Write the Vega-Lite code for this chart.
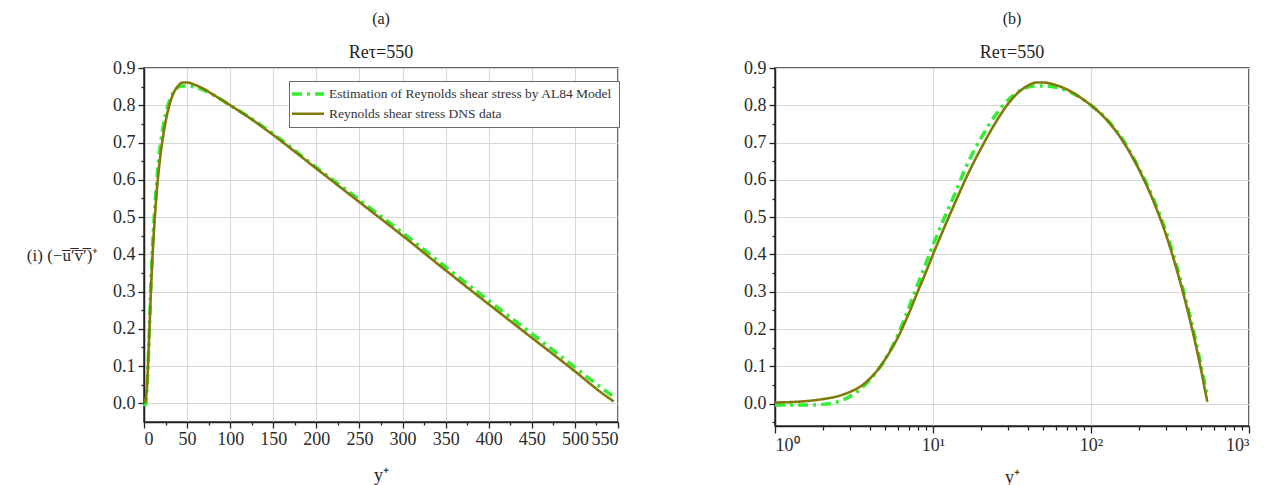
{
  "$schema": "https://vega.github.io/schema/vega-lite/v6.json",
  "padding": {"left": 17, "top": 10, "right": 5, "bottom": 0},
  "background": "white",
  "spacing": 120,
  "config": {
    "view": {"stroke": "#333", "strokeWidth": 1.5},
    "axis": {
      "domainColor": "#222", "domainWidth": 1.5,
      "tickColor": "#222", "tickWidth": 1.3,
      "gridColor": "#d6d6d6", "gridWidth": 1,
      "labelFont": "Liberation Serif", "labelFontSize": 18, "labelColor": "#2a2a2a",
      "titleFont": "Liberation Serif", "titleFontSize": 18, "titleFontWeight": "normal", "titleColor": "#2a2a2a"
    },
    "title": {"font": "Liberation Serif", "fontSize": 16, "fontWeight": "normal", "color": "#222",
      "subtitleFont": "Liberation Serif", "subtitleFontSize": 18, "subtitleColor": "#222", "subtitlePadding": 17, "offset": -3}
  },
  "datasets": {
    "d": [
      {"yp": 0, "v": 0, "s": "AL84"},
      {"yp": 1, "v": -0.004, "s": "AL84"},
      {"yp": 1.5, "v": -0.004, "s": "AL84"},
      {"yp": 2, "v": -0.002, "s": "AL84"},
      {"yp": 2.5, "v": 0.005, "s": "AL84"},
      {"yp": 3, "v": 0.02, "s": "AL84"},
      {"yp": 3.5, "v": 0.04, "s": "AL84"},
      {"yp": 4, "v": 0.065, "s": "AL84"},
      {"yp": 5, "v": 0.12, "s": "AL84"},
      {"yp": 6, "v": 0.185, "s": "AL84"},
      {"yp": 7, "v": 0.255, "s": "AL84"},
      {"yp": 8, "v": 0.32, "s": "AL84"},
      {"yp": 9, "v": 0.375, "s": "AL84"},
      {"yp": 10, "v": 0.425, "s": "AL84"},
      {"yp": 12, "v": 0.505, "s": "AL84"},
      {"yp": 14, "v": 0.57, "s": "AL84"},
      {"yp": 16, "v": 0.63, "s": "AL84"},
      {"yp": 18, "v": 0.675, "s": "AL84"},
      {"yp": 20, "v": 0.71, "s": "AL84"},
      {"yp": 25, "v": 0.775, "s": "AL84"},
      {"yp": 30, "v": 0.815, "s": "AL84"},
      {"yp": 35, "v": 0.838, "s": "AL84"},
      {"yp": 40, "v": 0.849, "s": "AL84"},
      {"yp": 45, "v": 0.852, "s": "AL84"},
      {"yp": 50, "v": 0.852, "s": "AL84"},
      {"yp": 60, "v": 0.848, "s": "AL84"},
      {"yp": 70, "v": 0.84, "s": "AL84"},
      {"yp": 80, "v": 0.828, "s": "AL84"},
      {"yp": 100, "v": 0.8, "s": "AL84"},
      {"yp": 120, "v": 0.771, "s": "AL84"},
      {"yp": 150, "v": 0.723, "s": "AL84"},
      {"yp": 200, "v": 0.633, "s": "AL84"},
      {"yp": 250, "v": 0.546, "s": "AL84"},
      {"yp": 300, "v": 0.458, "s": "AL84"},
      {"yp": 350, "v": 0.366, "s": "AL84"},
      {"yp": 400, "v": 0.276, "s": "AL84"},
      {"yp": 450, "v": 0.187, "s": "AL84"},
      {"yp": 500, "v": 0.097, "s": "AL84"},
      {"yp": 530, "v": 0.043, "s": "AL84"},
      {"yp": 545, "v": 0.018, "s": "AL84"},
      {"yp": 0, "v": 0, "s": "DNS"},
      {"yp": 1, "v": 0.003, "s": "DNS"},
      {"yp": 1.5, "v": 0.006, "s": "DNS"},
      {"yp": 2, "v": 0.012, "s": "DNS"},
      {"yp": 2.5, "v": 0.02, "s": "DNS"},
      {"yp": 3, "v": 0.032, "s": "DNS"},
      {"yp": 3.5, "v": 0.047, "s": "DNS"},
      {"yp": 4, "v": 0.068, "s": "DNS"},
      {"yp": 4.5, "v": 0.092, "s": "DNS"},
      {"yp": 5, "v": 0.12, "s": "DNS"},
      {"yp": 6, "v": 0.178, "s": "DNS"},
      {"yp": 7, "v": 0.24, "s": "DNS"},
      {"yp": 8, "v": 0.3, "s": "DNS"},
      {"yp": 9, "v": 0.352, "s": "DNS"},
      {"yp": 10, "v": 0.4, "s": "DNS"},
      {"yp": 12, "v": 0.48, "s": "DNS"},
      {"yp": 14, "v": 0.545, "s": "DNS"},
      {"yp": 16, "v": 0.6, "s": "DNS"},
      {"yp": 18, "v": 0.645, "s": "DNS"},
      {"yp": 20, "v": 0.682, "s": "DNS"},
      {"yp": 25, "v": 0.755, "s": "DNS"},
      {"yp": 30, "v": 0.805, "s": "DNS"},
      {"yp": 35, "v": 0.836, "s": "DNS"},
      {"yp": 40, "v": 0.853, "s": "DNS"},
      {"yp": 45, "v": 0.861, "s": "DNS"},
      {"yp": 50, "v": 0.861, "s": "DNS"},
      {"yp": 60, "v": 0.854, "s": "DNS"},
      {"yp": 70, "v": 0.843, "s": "DNS"},
      {"yp": 80, "v": 0.829, "s": "DNS"},
      {"yp": 100, "v": 0.8, "s": "DNS"},
      {"yp": 120, "v": 0.77, "s": "DNS"},
      {"yp": 150, "v": 0.72, "s": "DNS"},
      {"yp": 200, "v": 0.63, "s": "DNS"},
      {"yp": 250, "v": 0.54, "s": "DNS"},
      {"yp": 300, "v": 0.45, "s": "DNS"},
      {"yp": 350, "v": 0.357, "s": "DNS"},
      {"yp": 400, "v": 0.266, "s": "DNS"},
      {"yp": 450, "v": 0.176, "s": "DNS"},
      {"yp": 500, "v": 0.086, "s": "DNS"},
      {"yp": 530, "v": 0.03, "s": "DNS"},
      {"yp": 545, "v": 0.005, "s": "DNS"}
    ]
  },
  "hconcat": [
    {
      "width": 474,
      "height": 354,
      "title": {"text": "(a)", "subtitle": "Reτ=550"},
      "data": {"name": "d"},
      "mark": {"type": "line", "interpolate": "monotone"},
      "encoding": {
        "x": {
          "field": "yp", "type": "quantitative",
          "scale": {"domain": [0, 550], "nice": false},
          "axis": {
            "title": "y⁺", "titlePadding": 18, "grid": true,
            "values": [0,25,50,75,100,125,150,175,200,225,250,275,300,325,350,375,400,425,450,475,500,525,550],
            "labelExpr": "datum.value % 50 === 0 ? datum.label : ''",
            "tickSize": {"condition": {"test": "datum.value % 50 === 0", "value": 6}, "value": 3},
            "gridOpacity": {"condition": {"test": "datum.value % 50 === 0", "value": 1}, "value": 0},
            "labelPadding": 2
          }
        },
        "y": {
          "field": "v", "type": "quantitative",
          "scale": {"domain": [-0.05, 0.9], "nice": false, "zero": false},
          "axis": {
            "title": "(i)   (−u̅′̅v̅′̅)⁺",
            "titleAngle": 0, "titleAlign": "right", "titleBaseline": "middle",
            "titleX": -46, "titleY": 187, "titleFontSize": 17,
            "grid": true,
            "values": [0,0.05,0.1,0.15,0.2,0.25,0.3,0.35,0.4,0.45,0.5,0.55,0.6,0.65,0.7,0.75,0.8,0.85,0.9],
            "format": ".1f",
            "labelExpr": "abs(datum.value*10 - round(datum.value*10)) < 0.001 ? datum.label : ''",
            "tickSize": {"condition": {"test": "abs(datum.value*10 - round(datum.value*10)) < 0.001", "value": 6}, "value": 3},
            "gridOpacity": {"condition": {"test": "abs(datum.value*10 - round(datum.value*10)) < 0.001", "value": 1}, "value": 0},
            "labelPadding": 3
          }
        },
        "color": {
          "field": "s", "type": "nominal",
          "scale": {"domain": ["AL84", "DNS"], "range": ["#33ee33", "#807a08"]},
          "legend": {
            "title": null, "orient": "none", "legendX": 145, "legendY": 13,
            "strokeColor": "#666", "fillColor": "white", "padding": 6,
            "symbolType": "M-3.2,0H3.2", "symbolSize": 100, "symbolOffset": 6,
            "labelFont": "Liberation Serif", "labelFontSize": 13.5, "labelColor": "#333",
            "labelLimit": 500, "rowPadding": 5, "labelOffset": 14,
            "labelExpr": "datum.label == 'AL84' ? 'Estimation of Reynolds shear stress by AL84 Model' : 'Reynolds shear stress DNS data'"
          }
        },
        "strokeDash": {
          "field": "s", "type": "nominal",
          "scale": {"domain": ["AL84", "DNS"], "range": [[10, 5, 3, 5], [1, 0]]}
        },
        "strokeWidth": {
          "field": "s", "type": "nominal",
          "scale": {"domain": ["AL84", "DNS"], "range": [3.5, 2.6]}
        }
      }
    },
    {
      "width": 474,
      "height": 358,
      "title": {"text": "(b)", "subtitle": "Reτ=550"},
      "data": {"name": "d"},
      "transform": [{"filter": "datum.yp >= 1"}],
      "mark": {"type": "line", "interpolate": "monotone"},
      "encoding": {
        "x": {
          "field": "yp", "type": "quantitative",
          "scale": {"type": "log", "domain": [1, 1000], "nice": false},
          "axis": {
            "title": "y⁺", "titlePadding": 14, "grid": true,
            "values": [1,2,3,4,5,6,7,8,9,10,20,30,40,50,60,70,80,90,100,200,300,400,500,600,700,800,900,1000],
            "labelExpr": "datum.value == 1 ? '10⁰' : datum.value == 10 ? '10¹' : datum.value == 100 ? '10²' : datum.value == 1000 ? '10³' : ''",
            "tickSize": {"condition": {"test": "datum.value == 1 || datum.value == 10 || datum.value == 100 || datum.value == 1000", "value": 7}, "value": 4},
            "gridOpacity": {"condition": {"test": "datum.value == 1 || datum.value == 10 || datum.value == 100 || datum.value == 1000", "value": 1}, "value": 0},
            "labelPadding": 3
          }
        },
        "y": {
          "field": "v", "type": "quantitative",
          "scale": {"domain": [-0.06, 0.9], "nice": false, "zero": false},
          "axis": {
            "title": null, "grid": true,
            "values": [-0.05,0,0.05,0.1,0.15,0.2,0.25,0.3,0.35,0.4,0.45,0.5,0.55,0.6,0.65,0.7,0.75,0.8,0.85,0.9],
            "format": ".1f",
            "labelExpr": "abs(datum.value*10 - round(datum.value*10)) < 0.001 ? datum.label : ''",
            "tickSize": {"condition": {"test": "abs(datum.value*10 - round(datum.value*10)) < 0.001", "value": 6}, "value": 3},
            "gridOpacity": {"condition": {"test": "abs(datum.value*10 - round(datum.value*10)) < 0.001", "value": 1}, "value": 0},
            "labelPadding": 3
          }
        },
        "color": {
          "field": "s", "type": "nominal",
          "scale": {"domain": ["AL84", "DNS"], "range": ["#33ee33", "#807a08"]},
          "legend": null
        },
        "strokeDash": {
          "field": "s", "type": "nominal",
          "scale": {"domain": ["AL84", "DNS"], "range": [[10, 5, 3, 5], [1, 0]]},
          "legend": null
        },
        "strokeWidth": {
          "field": "s", "type": "nominal",
          "scale": {"domain": ["AL84", "DNS"], "range": [3.5, 2.6]},
          "legend": null
        }
      }
    }
  ],
  "resolve": {"scale": {"color": "independent", "strokeDash": "independent", "strokeWidth": "independent"}, "legend": {"color": "independent", "strokeDash": "independent", "strokeWidth": "independent"}}
}
